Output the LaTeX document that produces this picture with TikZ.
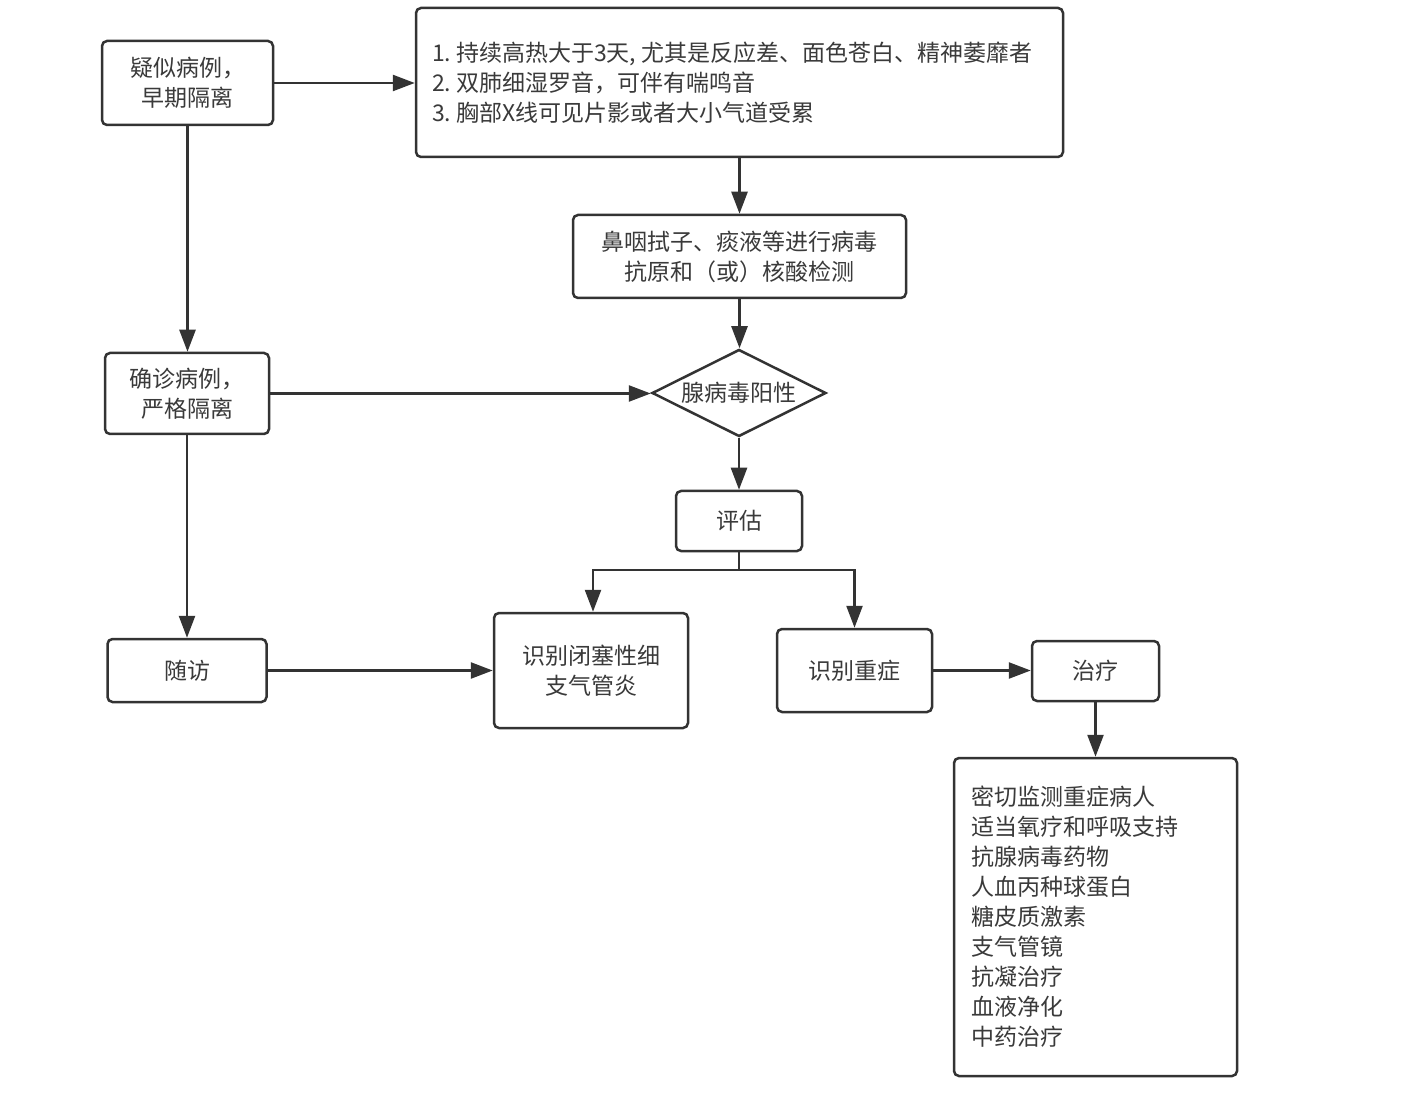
\documentclass[tikz,border=0pt]{standalone}
\usepackage{fontspec}
\setmainfont{Noto Sans CJK SC}
\usetikzlibrary{shapes.geometric,arrows.meta}
\definecolor{lncol}{HTML}{333333}
\definecolor{txcol}{HTML}{3A3A3A}
\begin{document}
\begin{tikzpicture}[x=0.5pt,y=-0.5pt,
  txt/.style={text=txcol,font=\fontsize{11.5}{15}\selectfont},
  box/.style={txt,draw=lncol,line width=1.25pt,rounded corners=2.5pt,fill=white,align=center,inner sep=0pt},
  arr/.style={draw=lncol,line width=1.25pt,-{Triangle[length=11pt,width=8pt]}},
  plain/.style={draw=lncol,line width=1.25pt}]
\fill[white] (0,0) rectangle (1416,1095);
\useasboundingbox (0,0) rectangle (1416,1095);

\node[box,minimum width=85.5pt,minimum height=42pt] (A) at (187.5,83) {疑似病例，\\早期隔离};
\node[box,minimum width=323.5pt,minimum height=74.5pt,text width=307.5pt,align=left,inner xsep=8pt] (B) at (739.5,82.5)
  {1.\hspace{2.5pt}持续高热大于3天,\hspace{2.5pt}尤其是反应差、面色苍白、精神萎靡者\\2.\hspace{2.5pt}双肺细湿罗音，可伴有喘鸣音\\3.\hspace{2.5pt}胸部X线可见片影或者大小气道受累};
\node[box,minimum width=166.5pt,minimum height=41.5pt] (C) at (739.5,256.5) {鼻咽拭子、痰液等进行病毒\\抗原和（或）核酸检测};
\node[txt,diamond,aspect=2,draw=lncol,line width=1.25pt,fill=white,minimum width=87pt,minimum height=43.5pt,inner sep=0pt] (D) at (739,393) {腺病毒阳性};
\node[box,minimum width=82pt,minimum height=40.5pt] (E) at (187,393.5) {确诊病例，\\严格隔离};
\node[box,minimum width=63pt,minimum height=30pt] (F) at (739,521) {评估};
\node[box,minimum width=79.5pt,minimum height=31.5pt] (G) at (187,670.5) {随访};
\node[box,minimum width=97pt,minimum height=57.5pt] (H) at (591,670.5) {识别闭塞性细\\支气管炎};
\node[box,minimum width=77.5pt,minimum height=41.5pt] (I) at (854.5,670.5) {识别重症};
\node[box,minimum width=63.5pt,minimum height=30pt] (J) at (1095.5,671) {治疗};
\node[box,minimum width=141.5pt,minimum height=159pt,text width=124.5pt,align=left,inner xsep=8.5pt] (K) at (1095.5,917)
  {密切监测重症病人\\适当氧疗和呼吸支持\\抗腺病毒药物\\人血丙种球蛋白\\糖皮质激素\\支气管镜\\抗凝治疗\\血液净化\\中药治疗};

\coordinate (S) at (739,570);

\draw[arr] (A.east) -- (A.east -| B.west);
\draw[arr] (A.south) -- (A.south |- E.north);
\draw[arr] (E.east) -- (E.east -| D.west);
\draw[arr] (E.south) -- (E.south |- G.north);
\draw[arr] (G.east) -- (G.east -| H.west);
\draw[arr] (B.south) -- (B.south |- C.north);
\draw[arr] (C.south) -- (C.south |- D.north);
\draw[arr] (D.south) -- (D.south |- F.north);
\draw[plain] (F.south) -- (S);
\draw[arr] (S) -| ([xshift=1pt]H.north);
\draw[arr] (S) -| (I.north);
\draw[arr] (I.east) -- (I.east -| J.west);
\draw[arr] (J.south) -- (K.north);
\end{tikzpicture}
\end{document}
